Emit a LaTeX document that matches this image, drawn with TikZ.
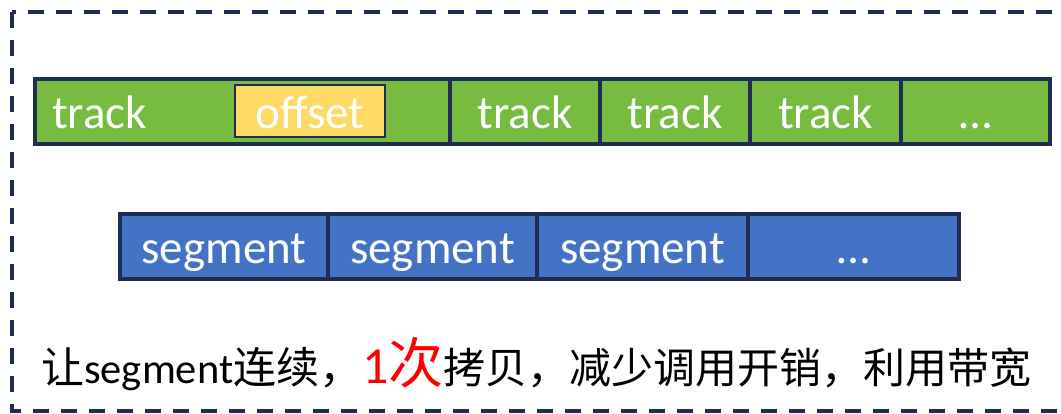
\documentclass[tikz,border=0pt]{standalone}
\usepackage{fontspec}
\setmainfont{Carlito}
\newfontfamily\cjk{Noto Sans CJK SC}
\definecolor{navy}{RGB}{31,45,84}
\definecolor{grn}{RGB}{119,187,65}
\definecolor{blu}{RGB}{68,114,196}
\definecolor{ylw}{RGB}{255,217,102}
\begin{document}
\begin{tikzpicture}[x=1pt,y=-1pt,
  cell/.style={draw=navy, line width=4pt, inner sep=0pt, text=white,
    font=\fontsize{47}{50}\selectfont, text height=34pt, text depth=0pt,
    minimum height=65pt},
  gcell/.style={cell, fill=grn},
  bcell/.style={cell, fill=blu},
  offbox/.style={cell, fill=ylw, line width=2pt, minimum height=52pt, minimum width=150pt},
  frame/.style={draw=navy, line width=3.5pt, dash pattern=on 16pt off 12pt},
  label/.style={inner sep=0pt, text=white, font=\fontsize{47}{50}\selectfont}
]
\useasboundingbox (0,0) rectangle (1061,413);
\draw[frame] (12,12) rectangle (1085,411);

% track row
\node[gcell, minimum width=415pt] (t1) at (242.5,111.5) {};
\node[gcell, minimum width=150pt] (t2) at (525,111.5) {track};
\node[gcell, minimum width=150pt] (t3) at (675,111.5) {track};
\node[gcell, minimum width=151pt] (t4) at (825.5,111.5) {track};
\node[gcell, minimum width=149pt] (t5) at (975.5,111.5) {…};
\node[offbox] (off) at (310,111) {offset};
\node[label, anchor=base west] (t1lbl) at (52,128.5) {track};

% segment row
\node[bcell, minimum width=208pt] (s1) at (224,246.5) {segment};
\node[bcell, minimum width=209pt] (s2) at (432.5,246.5) {segment};
\node[bcell, minimum width=211pt] (s3) at (642.5,246.5) {segment};
\node[bcell, minimum width=211pt] (s4) at (853.5,246.5) {…};

% caption
\node[inner sep=0pt, anchor=base west] (cap) at (41,383) {%
{\cjk\fontsize{43}{50}\selectfont 让}%
{\fontsize{42.5}{50}\selectfont segment}%
{\cjk\fontsize{43}{50}\selectfont 连续，}%
{\color{red}{\fontsize{52}{60}\selectfont 1}{\cjk\fontsize{55}{60}\selectfont 次}}%
{\cjk\fontsize{42}{50}\selectfont 拷贝，减少调用开销，利用带宽}};
\end{tikzpicture}
\end{document}
